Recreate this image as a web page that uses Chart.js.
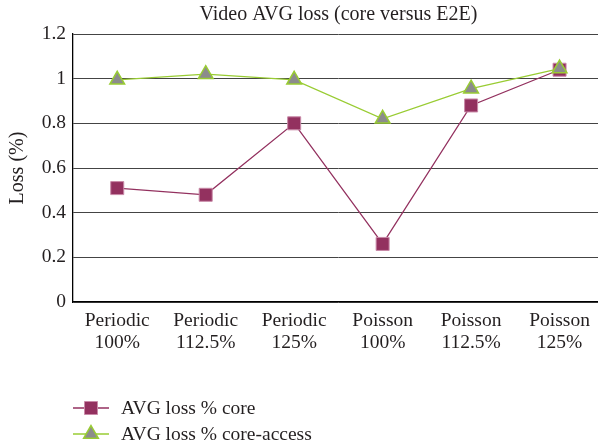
<!DOCTYPE html>
<html>
<head>
<meta charset="utf-8">
<script src="https://cdn.jsdelivr.net/npm/chart.js@4/dist/chart.umd.min.js"></script>
<style>
  html, body { margin: 0; padding: 0; background: #fff; overflow: hidden; }
  #wrap { width: 614px; height: 446px; }
</style>
</head>
<body>
<div id="wrap"><canvas id="lossChart"></canvas></div>
<script>
const categories = [
  ["Periodic", "100%"],
  ["Periodic", "112.5%"],
  ["Periodic", "125%"],
  ["Poisson", "100%"],
  ["Poisson", "112.5%"],
  ["Poisson", "125%"],
];
const coreLoss = [0.51, 0.48, 0.80, 0.26, 0.88, 1.04];
const coreAccessLoss = [0.995, 1.02, 0.995, 0.82, 0.955, 1.045];
const seriesNames = ["AVG loss % core", "AVG loss % core-access"];
const yMin = 0, yMax = 1.2, yStep = 0.2;

const FONT = "'Liberation Serif', 'Times New Roman', serif";
const TEXT = "#231f20";

// legend drawn like the original: a short line with the marker on it
const lineLegend = {
  id: "lineLegend",
  afterDraw(chart) {
    const ctx = chart.ctx;
    const x0 = chart.chartArea.left;
    const rows = [chart.chartArea.bottom + 106, chart.chartArea.bottom + 132];
    chart.data.datasets.forEach((ds, i) => {
      const y = rows[i];
      ctx.save();
      ctx.strokeStyle = ds.borderColor;
      ctx.lineWidth = 1.5;
      ctx.beginPath();
      ctx.moveTo(x0, y);
      ctx.lineTo(x0 + 36, y);
      ctx.stroke();
      const cx = x0 + 18;
      ctx.fillStyle = ds.pointBackgroundColor;
      ctx.strokeStyle = ds.pointBorderColor;
      ctx.lineWidth = ds.pointBorderWidth;
      ctx.beginPath();
      if (ds.pointStyle === "rect") {
        ctx.rect(cx - 6.5, y - 6.5, 13, 13);
      } else {
        const r = ds.pointRadius;
        ctx.moveTo(cx, y - r);
        ctx.lineTo(cx + r * 0.866, y + r * 0.5);
        ctx.lineTo(cx - r * 0.866, y + r * 0.5);
        ctx.closePath();
      }
      ctx.fill();
      ctx.stroke();
      ctx.fillStyle = TEXT;
      ctx.font = "19.5px " + FONT;
      ctx.textBaseline = "middle";
      ctx.fillText(ds.label, x0 + 48, y + 1);
      ctx.restore();
    });
  },
};

new Chart(document.getElementById("lossChart"), {
  type: "line",
  data: {
    labels: categories,
    datasets: [
      {
        label: seriesNames[0],
        data: coreLoss,
        borderColor: "#93315f",
        borderWidth: 1.3,
        pointStyle: "rect",
        pointRadius: 9.2,
        pointBackgroundColor: "#93315f",
        pointBorderColor: "#c98aa8",
        pointBorderWidth: 1,
        order: 1,
      },
      {
        label: seriesNames[1],
        data: coreAccessLoss,
        borderColor: "#99cc33",
        borderWidth: 1.3,
        pointStyle: "triangle",
        pointRadius: 8.5,
        pointBackgroundColor: "#8c8c8c",
        pointBorderColor: "#99cc33",
        pointBorderWidth: 1.5,
        order: 0,
      },
    ],
  },
  options: {
    responsive: true,
    maintainAspectRatio: false,
    animation: false,
    layout: { padding: { top: 0, right: 0, bottom: 0, left: 6 } },
    plugins: {
      legend: { display: false },
      tooltip: { enabled: false },
      title: {
        display: true,
        text: "Video AVG loss (core versus E2E)",
        fullSize: false,
        color: TEXT,
        font: { family: FONT, size: 20, weight: "normal", lineHeight: 1.1 },
        padding: { top: 4, bottom: 8 },
      },
    },
    scales: {
      x: {
        offset: true,
        grid: { display: false, drawTicks: false },
        border: { color: "#000", width: 1.3 },
        ticks: {
          color: TEXT,
          font: { family: FONT, size: 19.5, lineHeight: 1.13 },
          padding: 8,
          maxRotation: 0,
          autoSkip: false,
        },
        afterFit(scale) { scale.height = 144; },
      },
      y: {
        min: yMin,
        max: yMax,
        grid: { color: "#444", lineWidth: 1, drawTicks: false },
        border: { color: "#000", width: 1.3 },
        ticks: {
          stepSize: yStep,
          color: TEXT,
          font: { family: FONT, size: 19.5 },
          padding: 7,
          callback: (v) => String(Math.round(v * 10) / 10),
        },
        title: {
          display: true,
          text: "Loss (%)",
          color: TEXT,
          font: { family: FONT, size: 20 },
          padding: { top: 0, bottom: 2 },
        },
        afterFit(scale) { scale.width = 67; },
      },
    },
  },
  plugins: [lineLegend],
});
</script>
</body>
</html>
